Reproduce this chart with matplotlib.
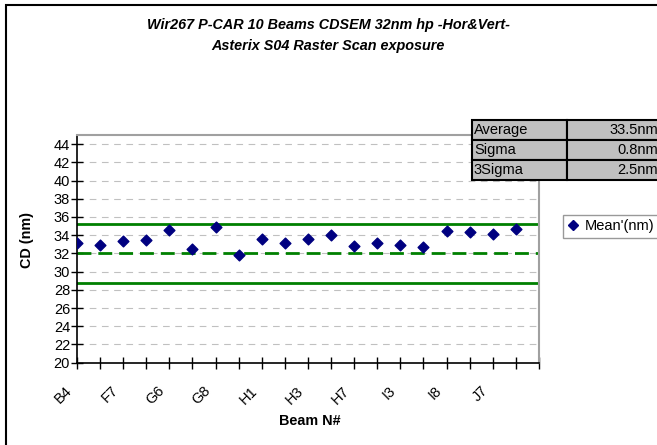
import numpy as np
import matplotlib
matplotlib.use("Agg")
import matplotlib.pyplot as plt
import matplotlib.transforms as mtransforms
from matplotlib.patches import Rectangle
from matplotlib.lines import Line2D

plt.rcParams['font.family'] = ['Liberation Sans', 'DejaVu Sans']

# data
mean_cd = [33.1, 32.95, 33.35, 33.45, 34.6, 32.45, 34.9, 31.8, 33.6, 33.1,
           33.6, 34.0, 32.8, 33.1, 32.95, 32.75, 34.5, 34.4, 34.1, 34.65]
shown_labels = ['B4', 'F7', 'G6', 'G8', 'H1', 'H3', 'H7', 'I3', 'I8', 'J7']
spec_target = 32.0
spec_upper = 35.2
spec_lower = 28.8
stat_names = ['Average', 'Sigma', '3Sigma']
stat_values = ['33.5nm', '0.8nm', '2.5nm']

W, H = 657, 445
fig = plt.figure(figsize=(W / 100, H / 100), dpi=100)

# chart-area border (left/top visible)
fig.patches.append(Rectangle((6 / W, -0.1), 1.2, 1.1 - 5 / H, transform=fig.transFigure,
                             fill=False, edgecolor='black', linewidth=1.5))

ax = fig.add_axes([77 / W, 1 - 362.7 / H, (539 - 77) / W, (362.7 - 135) / H])

x = np.arange(len(mean_cd))
ax.set_xlim(0, len(mean_cd))
ax.set_ylim(20, 45)
ax.set_yticks(np.arange(20, 45, 2))
ax.yaxis.grid(True, color='#c0c0c0', linestyle=(0, (6, 5)), linewidth=0.8)
ax.set_axisbelow(True)

ax.axhline(spec_upper, color='#008000', linewidth=2)
ax.axhline(spec_lower, color='#008000', linewidth=2)
ax.axhline(spec_target, color='#008000', linewidth=2, linestyle=(0, (5, 2.5)))

ax.scatter(x, mean_cd, marker='D', s=30, color='#000080', zorder=3)

ax.set_xticks(np.arange(0, len(mean_cd) + 1))
ax.set_xticklabels([shown_labels[i // 2] if i % 2 == 0 and i // 2 < len(shown_labels) else ''
                    for i in range(len(mean_cd) + 1)],
                   rotation=45, ha='right', rotation_mode='anchor', fontsize=10.5)
ax.tick_params(axis='x', direction='inout', length=8, width=1, pad=11)
ax.tick_params(axis='y', direction='inout', length=8, width=1, labelsize=10.5, pad=1)
shift = mtransforms.ScaledTranslation(-12 / 100, 0, fig.dpi_scale_trans)
for lbl in ax.get_xticklabels():
    lbl.set_transform(lbl.get_transform() + shift)

for s in ['top', 'right']:
    ax.spines[s].set_color('#a0a0a0')
    ax.spines[s].set_linewidth(1.5)
for s in ['left', 'bottom']:
    ax.spines[s].set_linewidth(1.2)

fig.text(328 / W, 1 - 25 / H, 'Wir267 P-CAR 10 Beams CDSEM 32nm hp -Hor&Vert-',
         ha='center', va='center', fontsize=10.4, fontweight='bold', fontstyle='italic')
fig.text(328 / W, 1 - 46 / H, 'Asterix S04 Raster Scan exposure',
         ha='center', va='center', fontsize=10.4, fontweight='bold', fontstyle='italic')
fig.text(27 / W, 1 - 240 / H, 'CD (nm)', rotation=90, ha='center', va='center',
         fontsize=10.4, fontweight='bold')
fig.text(310 / W, 1 - 421 / H, 'Beam N#', ha='center', va='center',
         fontsize=10.4, fontweight='bold')

# statistics table
tax = fig.add_axes([472 / W, 1 - 180 / H, (660 - 472) / W, 60 / H])
tax.axis('off')
tbl = tax.table(cellText=[[n, v] for n, v in zip(stat_names, stat_values)],
                cellLoc='left', bbox=[0, 0, 1, 1], colWidths=[94.7, 93.3])
tbl.auto_set_font_size(False)
for (r, c), cell in tbl.get_celld().items():
    cell.set_facecolor('#c0c0c0')
    cell.set_edgecolor('black')
    cell.set_linewidth(1.5)
    cell.set_fontsize(10.5)
    cell.PAD = 0.02
    if c == 1:
        cell._loc = 'right'
        cell.get_text().set_ha('right')

# legend
handle = Line2D([], [], marker='D', linestyle='none', color='#000080', markersize=5)
leg = fig.legend([handle], ["Mean'(nm)"], loc='upper left',
                 bbox_to_anchor=(563 / W, 1 - 215 / H), fontsize=10.5,
                 frameon=True, fancybox=False, handlelength=0.8, handletextpad=0.4,
                 borderpad=0.3, borderaxespad=0)
leg.get_frame().set_edgecolor('#808080')
leg.get_frame().set_linewidth(1)

fig.savefig('out.png', dpi=100)
